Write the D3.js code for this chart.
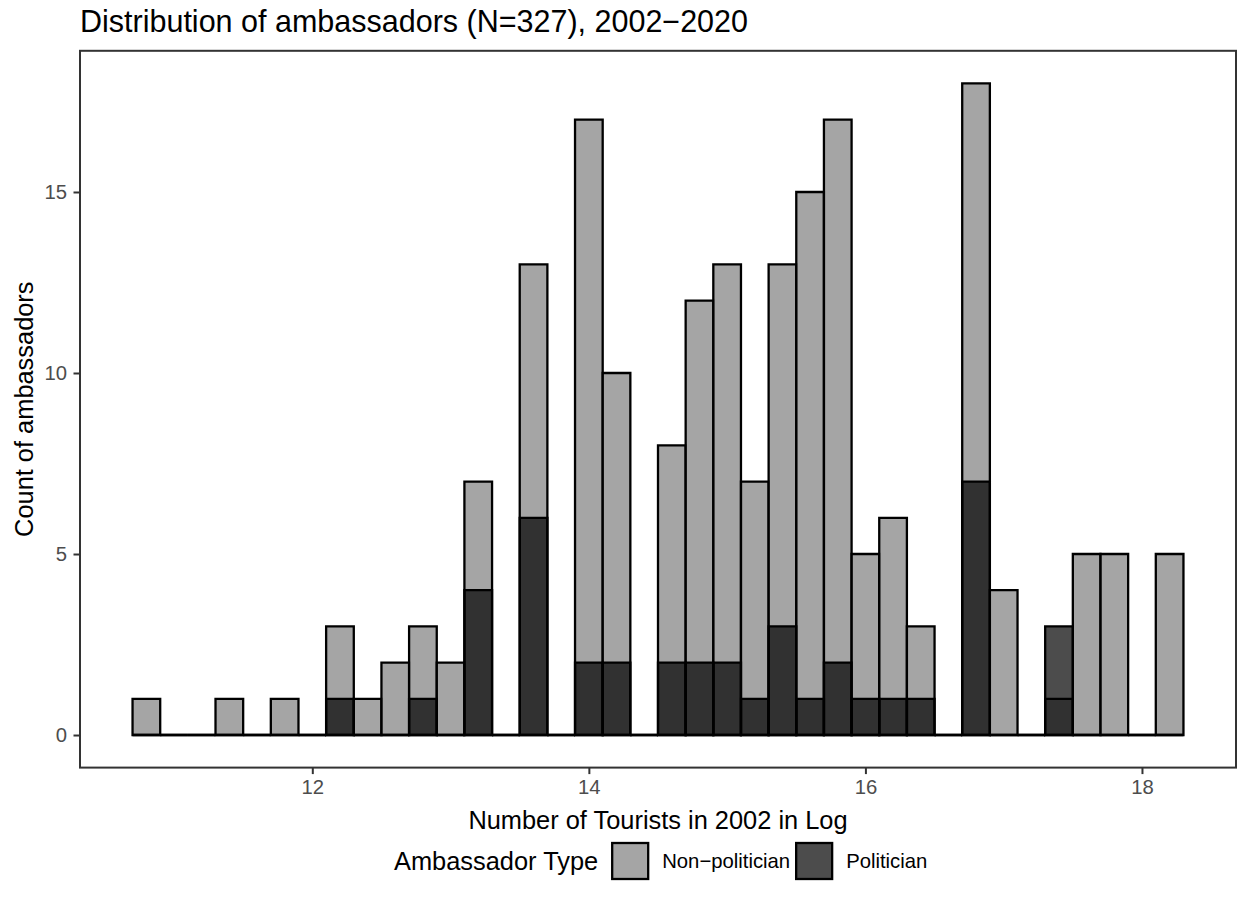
<!DOCTYPE html>
<html>
<head>
<meta charset="utf-8">
<script src="https://cdn.jsdelivr.net/npm/d3@7"></script>
<style>
  body { margin: 0; background: #fff; }
  svg text { font-family: "Liberation Sans", Arial, Helvetica, sans-serif; }
</style>
</head>
<body>
<svg id="chart" width="1238" height="906"></svg>
<script>
// histogram of ambassadors, bins of width 0.2 (log tourists), two groups drawn on top of each other
const binCenters = [10.8, 11.0, 11.2, 11.4, 11.6, 11.8, 12.0, 12.2, 12.4, 12.6,
                    12.8, 13.0, 13.2, 13.4, 13.6, 13.8, 14.0, 14.2, 14.4, 14.6,
                    14.8, 15.0, 15.2, 15.4, 15.6, 15.8, 16.0, 16.2, 16.4, 16.6,
                    16.8, 17.0, 17.2, 17.4, 17.6, 17.8, 18.0, 18.2];
const binWidth = 0.2;
const nonPolitician = [1, 0, 0, 1, 0, 1, 0, 3, 1, 2,
                       3, 2, 7, 0, 13, 0, 17, 10, 0, 8,
                       12, 13, 7, 13, 15, 17, 5, 6, 3, 0,
                       18, 4, 0, 1, 5, 5, 0, 5];
const politician = [0, 0, 0, 0, 0, 0, 0, 1, 0, 0,
                    1, 0, 4, 0, 6, 0, 2, 2, 0, 2,
                    2, 2, 1, 3, 1, 2, 1, 1, 1, 0,
                    7, 0, 0, 3, 0, 0, 0, 0];
const groups = ["Non\u2212politician", "Politician"];
const groupFill = ["#7f7f7f", "#000000"];
const xTicks = [12, 14, 16, 18];
const yTicks = [0, 5, 10, 15];

const svg = d3.select("#chart");
const margin = { top: 50.8, right: 2, bottom: 138.4, left: 80 },
    width = 1238 - margin.left - margin.right,
    height = 906 - margin.top - margin.bottom;

const g = svg.append("g").attr("transform", "translate(" + margin.left + "," + margin.top + ")");

// ggplot style 5% expansion
const xMin = binCenters[0] - binWidth / 2, xMax = binCenters[binCenters.length - 1] + binWidth / 2;
const xPad = (xMax - xMin) * 0.05;
const yMax = d3.max(nonPolitician.concat(politician));

const x = d3.scaleLinear().domain([xMin - xPad, xMax + xPad]).range([0, width]);
const y = d3.scaleLinear().domain([-yMax * 0.05, yMax * 1.05]).range([height, 0]);

const series = [nonPolitician, politician];
series.forEach((vals, k) => {
    g.selectAll(".bar" + k)
        .data(vals.map((v, i) => ({ c: binCenters[i], v: v })))
        .enter()
        .append("path")
        .attr("class", "bar" + k)
        .attr("d", d => {
            let x0 = x(d.c - binWidth / 2), x1 = x(d.c + binWidth / 2);
            return "M" + x0 + "," + y(0) + "H" + x1 + "V" + y(d.v) + "H" + x0 + "Z";
        })
        .style("fill", groupFill[k])
        .style("fill-opacity", 0.7)
        .style("stroke", "#000")
        .style("stroke-width", 2.3)
        .style("stroke-linejoin", "miter");
});

// panel border
g.append("rect")
    .attr("width", width)
    .attr("height", height)
    .style("fill", "none")
    .style("stroke", "#333")
    .style("stroke-width", 2);

const xAxis = g.append("g")
    .attr("transform", "translate(0," + height + ")")
    .call(d3.axisBottom(x).tickValues(xTicks).tickSize(6.5).tickPadding(5.8));
const yAxis = g.append("g")
    .call(d3.axisLeft(y).tickValues(yTicks).tickSize(6.5).tickPadding(6.5));

[xAxis, yAxis].forEach(a => {
    a.select(".domain").remove();
    a.selectAll(".tick line").style("stroke", "#333").style("stroke-width", 2);
    a.selectAll(".tick text")
        .style("fill", "#4d4d4d")
        .style("font-size", "20.3px")
        .style("font-family", "'Liberation Sans', Arial, sans-serif");
});

// titles
svg.append("text")
    .attr("x", margin.left)
    .attr("y", 32)
    .style("font-size", "30.5px")
    .text("Distribution of ambassadors (N=327), 2002\u22122020");

svg.append("text")
    .attr("x", margin.left + width / 2)
    .attr("y", 829)
    .attr("text-anchor", "middle")
    .style("font-size", "25.4px")
    .text("Number of Tourists in 2002 in Log");

svg.append("text")
    .attr("transform", "translate(33," + (margin.top + height / 2) + ") rotate(-90)")
    .attr("text-anchor", "middle")
    .style("font-size", "25.4px")
    .text("Count of ambassadors");

// legend (square keys, label right after each key)
const keySize = 36, legMid = 861;
const legend = svg.append("g").attr("transform", "translate(394,0)");
const legTitle = legend.append("text")
    .attr("y", legMid + 9)
    .style("font-size", "25.4px")
    .text("Ambassador Type");
let cx = legTitle.node().getComputedTextLength() + 14;
groups.forEach((name, k) => {
    legend.append("rect")
        .attr("x", cx)
        .attr("y", legMid - keySize / 2)
        .attr("width", keySize)
        .attr("height", keySize)
        .style("fill", groupFill[k])
        .style("fill-opacity", 0.7)
        .style("stroke", "#000")
        .style("stroke-width", 2.3);
    let t = legend.append("text")
        .attr("x", cx + keySize + 14)
        .attr("y", legMid + 7)
        .style("font-size", "20.3px")
        .text(name);
    cx += keySize + 14 + t.node().getComputedTextLength() + 6;
});
</script>
</body>
</html>
